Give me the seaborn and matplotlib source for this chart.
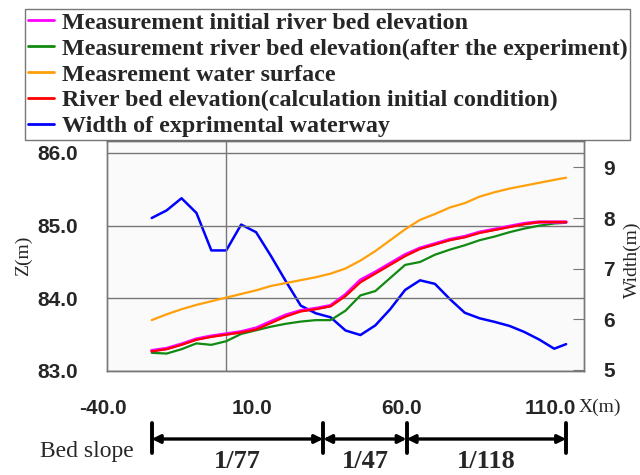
import numpy as np
import pandas as pd
import matplotlib
matplotlib.use("Agg")
import matplotlib.pyplot as plt
import matplotlib.transforms as mtransforms
from matplotlib.lines import Line2D
import seaborn as sns

# ---------------- data ----------------
x_pos = [-25, -20, -15, -10, -5, 0, 5, 10, 15, 20, 25, 30, 35, 40, 45, 50, 55,
         60, 65, 70, 75, 80, 85, 90, 95, 100, 105, 110, 114]

bed_initial_meas = [83.28, 83.31, 83.37, 83.44, 83.48, 83.51, 83.54, 83.59, 83.68, 83.77,
                    83.83, 83.86, 83.90, 84.05, 84.25, 84.36, 84.48, 84.60, 84.69, 84.75,
                    84.81, 84.85, 84.91, 84.95, 84.99, 85.03, 85.05, 85.05, 85.05]
bed_after_meas = [83.25, 83.24, 83.30, 83.38, 83.36, 83.41, 83.51, 83.56, 83.61, 83.65,
                  83.68, 83.70, 83.70, 83.83, 84.04, 84.10, 84.28, 84.46, 84.50, 84.60,
                  84.67, 84.73, 84.80, 84.85, 84.91, 84.96, 85.00, 85.03, 85.04]
water_surface = [83.70, 83.78, 83.85, 83.91, 83.96, 84.01, 84.06, 84.11, 84.17, 84.21,
                 84.25, 84.29, 84.34, 84.41, 84.52, 84.65, 84.80, 84.95, 85.08, 85.16,
                 85.25, 85.31, 85.40, 85.46, 85.51, 85.55, 85.59, 85.63, 85.66]
bed_calc_initial = [83.27, 83.30, 83.36, 83.43, 83.47, 83.50, 83.53, 83.57, 83.66, 83.75,
                    83.82, 83.85, 83.89, 84.03, 84.22, 84.34, 84.46, 84.58, 84.68, 84.74,
                    84.80, 84.84, 84.90, 84.94, 84.98, 85.02, 85.05, 85.05, 85.05]
waterway_width = [8.00, 8.15, 8.39, 8.10, 7.36, 7.36, 7.87, 7.72, 7.25, 6.75,
                  6.27, 6.12, 6.04, 5.78, 5.69, 5.88, 6.20, 6.58, 6.77, 6.70,
                  6.40, 6.13, 6.02, 5.95, 5.87, 5.75, 5.60, 5.42, 5.51]

labels = ["Measurement initial river bed elevation",
          "Measurement river bed elevation(after the experiment)",
          "Measrement water surface",
          "River bed elevation(calculation initial condition)",
          "Width of exprimental waterway"]
colors = ["#ff00ff", "#108a10", "#ff9f0a", "#ff0000", "#0000ff"]

x_ticks = [-40, 10, 60, 110]
z_ticks = [83, 84, 85, 86]
w_ticks = [5, 6, 7, 8, 9]
slope_bounds = [-25, 32.5, 60.5, 114]
slope_labels = ["1/77", "1/47", "1/118"]

df = pd.DataFrame({"x": x_pos, "m_init": bed_initial_meas, "m_after": bed_after_meas,
                   "ws": water_surface, "calc": bed_calc_initial, "w": waterway_width})

# ---------------- figure ----------------
sns.set_style("white")
plt.rcParams["font.family"] = ["Liberation Sans", "DejaVu Sans"]

fig = plt.figure(figsize=(6.4, 4.75), dpi=100, facecolor="white")
L, R, B, T = 107 / 640, 584 / 640, 1 - 371 / 475, 1 - 141 / 475
ax = fig.add_axes([L, B, R - L, T - B])
ax2 = ax.twinx()

sns.lineplot(data=df, x="x", y="w", ax=ax2, color=colors[4], lw=1.8)
sns.lineplot(data=df, x="x", y="ws", ax=ax, color=colors[2], lw=1.6)
sns.lineplot(data=df, x="x", y="m_after", ax=ax, color=colors[1], lw=1.6)
sns.lineplot(data=df, x="x", y="m_init", ax=ax, color=colors[0], lw=2.4)
sns.lineplot(data=df, x="x", y="calc", ax=ax, color=colors[3], lw=1.6)

ax.set_zorder(ax2.get_zorder() + 1)
ax.patch.set_visible(False)
ax2.patch.set_visible(True)
ax2.patch.set_facecolor("#fafafa")

ax.set_xlim(-40, 120)
ax.set_ylim(83, 86.165)
ax2.set_ylim(4.98, 9.52)

gridc = "#777777"
ax.set_xticks(x_ticks)
ax.set_xticklabels([f"{v:.1f}" for v in x_ticks])
ax.set_xticks([0], minor=True)
ax.set_yticks(z_ticks)
ax.set_yticklabels([f"{v:.1f}" for v in z_ticks])
ax.grid(axis="y", which="major", color=gridc, lw=1.0)
ax.grid(axis="x", which="minor", color=gridc, lw=1.0)
ax.grid(axis="x", which="major", visible=False)
ax.tick_params(axis="x", which="major", direction="in", length=4, color=gridc,
               pad=20, labelsize=15)
ax.tick_params(axis="x", which="minor", length=0)
ax.tick_params(axis="y", length=0, pad=21, labelsize=15)
ax2.set_yticks(w_ticks)
ax2.tick_params(axis="y", direction="in", length=8, color=gridc, pad=14, labelsize=15)
shift = mtransforms.ScaledTranslation(-4 / 100, 0, fig.dpi_scale_trans)
for a in (ax, ax2):
    for lab in a.get_xticklabels() + a.get_yticklabels():
        lab.set_fontweight("bold")
    for s in a.spines.values():
        s.set_color(gridc)
        s.set_linewidth(1.0)
for lab in ax.get_xticklabels():
    lab.set_transform(lab.get_transform() + shift)

ax.set_xlabel("")
ax.set_ylabel("")
ax2.set_ylabel("")
serif = ["Liberation Serif", "DejaVu Serif"]
fig.text(23 / 640, 1 - 256 / 475, "Z(m)", rotation=90, ha="center", va="center",
         family=serif, fontsize=14)
fig.text(632 / 640, 1 - 260 / 475, "Width(m)", rotation=90, ha="center", va="center",
         family=serif, fontsize=14)
fig.text(600 / 640, 1 - 407 / 475, "X(m)", ha="center", va="center",
         family=serif, fontsize=14)

# legend
handles = [Line2D([], [], color=c, lw=2) for c in colors]
leg = fig.legend(handles, labels, loc="upper left",
                 bbox_to_anchor=(25 / 640, 1 - 9 / 475),
                 prop={"family": serif, "weight": "bold", "size": 17.3},
                 frameon=True, fancybox=False, edgecolor="#555555",
                 handlelength=1.1, handletextpad=0.3, borderpad=0.12,
                 labelspacing=0.17, borderaxespad=0)
leg.get_frame().set_linewidth(1.0)
leg.get_frame().set_facecolor("white")

# bed slope annotation
trans = mtransforms.blended_transform_factory(ax.transData, fig.transFigure)
y_arrow = 1 - 439 / 475
y_bar0, y_bar1 = 1 - 423 / 475, 1 - 453 / 475
for xb in slope_bounds:
    ax.plot([xb, xb], [y_bar0, y_bar1], transform=trans, color="black", lw=2.8,
            clip_on=False)
for i, lab in enumerate(slope_labels):
    x0, x1 = slope_bounds[i], slope_bounds[i + 1]
    ax.annotate("", xy=(x1, y_arrow), xytext=(x0, y_arrow), xycoords=trans,
                textcoords=trans, annotation_clip=False,
                arrowprops=dict(arrowstyle="<|-|>", color="black", lw=2.4,
                                shrinkA=0, shrinkB=0, mutation_scale=12))
    ax.text((x0 + x1) / 2, 1 - 461 / 475, lab, transform=trans, ha="center",
            va="center", family=serif, fontweight="bold", fontsize=19)
fig.text(87 / 640, 1 - 452 / 475, "Bed slope", ha="center", va="center",
         family=serif, fontsize=17)

fig.savefig("out.png", dpi=100, facecolor="white")
